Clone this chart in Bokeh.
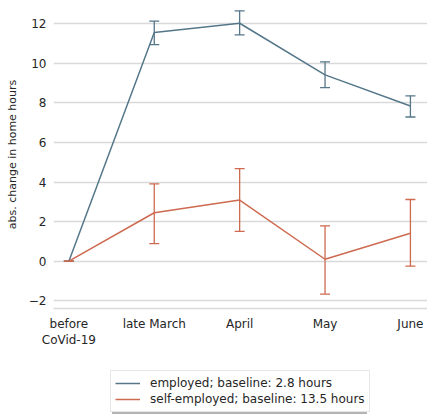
from bokeh.plotting import figure
from bokeh.layouts import column
from bokeh.models import ColumnDataSource, Whisker, Legend, LegendItem, FixedTicker, Range1d, TeeHead
from bokeh.embed import file_html
from bokeh.resources import INLINE

periods = ["before\nCoVid-19", "late March", "April", "May", "June"]
emp_mean = [0.0, 11.56, 12.03, 9.42, 7.85]
emp_low = [0.0, 10.95, 11.44, 8.78, 7.29]
emp_high = [0.0, 12.14, 12.66, 10.08, 8.36]
self_mean = [0.0, 2.45, 3.09, 0.10, 1.41]
self_low = [0.0, 0.89, 1.51, -1.66, -0.25]
self_high = [0.0, 3.91, 4.68, 1.79, 3.12]
legend_labels = ["employed; baseline: 2.8 hours", "self-employed; baseline: 13.5 hours"]
y_ticks = [-2, 0, 2, 4, 6, 8, 10, 12]

EMP = "#557789"
SELF = "#cd6a50"
FONT = "DejaVu Sans"
TXT = "#262626"

xs = list(range(len(periods)))

W = 427
p = figure(width=W, height=350, output_backend="svg", toolbar_location=None,
           x_range=Range1d(-0.18, 4.2), y_range=Range1d(-2.39, 13.18),
           min_border_left=53, min_border_right=0, min_border_top=0, min_border_bottom=34)

p.outline_line_color = None
p.background_fill_color = "white"
p.border_fill_color = "white"

p.xgrid.grid_line_color = None
p.ygrid.grid_line_color = "#d9d9d9"
p.ygrid.grid_line_width = 1.3

p.yaxis.ticker = FixedTicker(ticks=y_ticks)
p.yaxis.major_label_overrides = {t: ("\u22122" if t == -2 else str(t)) for t in y_ticks}
p.xaxis.ticker = FixedTicker(ticks=xs)
p.xaxis.major_label_overrides = {i: lab for i, lab in enumerate(periods)}

for ax in (p.xaxis[0], p.yaxis[0]):
    ax.major_tick_line_color = None
    ax.minor_tick_line_color = None
    ax.major_tick_in = 0
    ax.major_tick_out = 0
    ax.major_label_text_font = FONT
    ax.major_label_text_font_size = "12px"
    ax.major_label_text_color = TXT
    ax.axis_label_text_font = FONT
    ax.axis_label_text_font_size = "11px"
    ax.axis_label_text_font_style = "normal"
    ax.axis_label_text_color = TXT

p.yaxis.axis_line_color = None
p.yaxis.major_label_standoff = 7
p.yaxis.axis_label = "abs. change in home hours"
p.yaxis.axis_label_standoff = 7
p.xaxis.axis_line_color = "#d9d9d9"
p.xaxis.axis_line_width = 1.3
p.xaxis.major_label_standoff = 8

src_e = ColumnDataSource(dict(x=xs, y=emp_mean, lo=emp_low, hi=emp_high))
src_s = ColumnDataSource(dict(x=xs, y=self_mean, lo=self_low, hi=self_high))

p.line("x", "y", source=src_e, line_color=EMP, line_width=1.5)
p.add_layout(Whisker(source=src_e, base="x", lower="lo", upper="hi", line_color=EMP, line_width=1.3,
                     upper_head=TeeHead(size=10, line_color=EMP, line_width=1.3),
                     lower_head=TeeHead(size=10, line_color=EMP, line_width=1.3)))
p.line("x", "y", source=src_s, line_color=SELF, line_width=1.5)
p.add_layout(Whisker(source=src_s, base="x", lower="lo", upper="hi", line_color=SELF, line_width=1.3,
                     upper_head=TeeHead(size=10, line_color=SELF, line_width=1.3),
                     lower_head=TeeHead(size=10, line_color=SELF, line_width=1.3)))

# legend panel below the chart (its own small figure; the lines only feed the legend keys)
p2 = figure(width=W, height=64, output_backend="svg", toolbar_location=None,
            x_range=Range1d(0, 1), y_range=Range1d(0, 1),
            min_border_left=53, min_border_right=0, min_border_top=0, min_border_bottom=0)
p2.axis.visible = False
p2.grid.grid_line_color = None
p2.outline_line_color = None
p2.border_fill_color = "white"
p2.background_fill_color = "white"

key_src = ColumnDataSource(dict(x=[5, 6], y=[5, 6]))
le = p2.line("x", "y", source=key_src, line_color=EMP, line_width=1.5)
ls = p2.line("x", "y", source=key_src, line_color=SELF, line_width=1.5)
he = p2.line("x", "y", source=key_src, line_color="white", line_alpha=0)
hs = p2.line("x", "y", source=key_src, line_color="white", line_alpha=0)


def style(lg):
    lg.label_text_font = FONT
    lg.label_text_font_size = "12px"
    lg.label_height = 16
    lg.glyph_height = 16
    lg.glyph_width = 25
    lg.label_standoff = 10
    lg.spacing = 0
    lg.padding = 4
    lg.margin = 0


# drop shadow behind the legend box (blank labels, fixed label width)
shadow = Legend(items=[LegendItem(label=" ", renderers=[he]),
                       LegendItem(label=" ", renderers=[hs])],
                location=(59, 0))
style(shadow)
shadow.label_width = 220
shadow.label_text_alpha = 0
shadow.border_line_color = None
shadow.background_fill_color = "#b4b4b4"
shadow.background_fill_alpha = 1.0
p2.add_layout(shadow, "center")

legend = Legend(items=[LegendItem(label=legend_labels[0], renderers=[le]),
                       LegendItem(label=legend_labels[1], renderers=[ls])],
                location=(57, 2))
style(legend)
legend.label_text_color = TXT
legend.border_line_color = "#d0d0d0"
legend.border_line_width = 1
legend.background_fill_color = "white"
legend.background_fill_alpha = 1.0
p2.add_layout(legend, "center")

layout = column(p, p2, spacing=0)
open("out.html", "w").write(file_html(layout, INLINE))
